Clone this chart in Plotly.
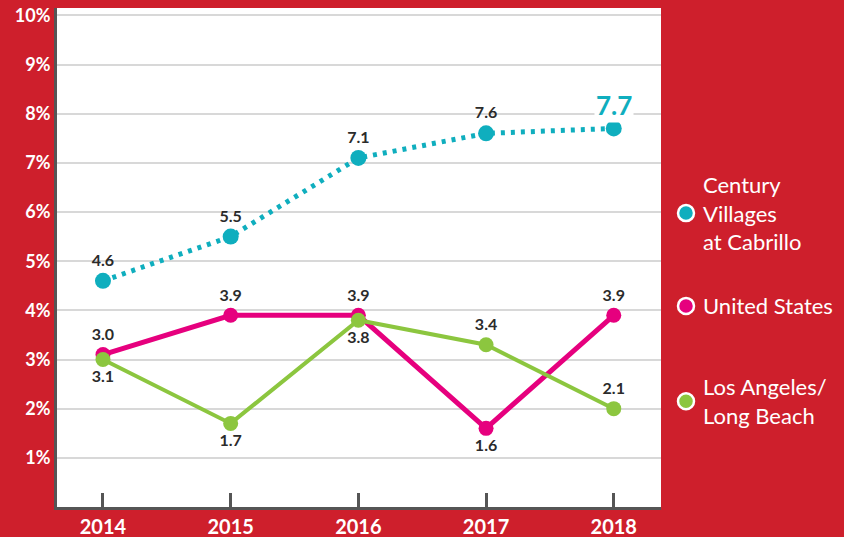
import plotly.graph_objects as go

years = [2014, 2015, 2016, 2017, 2018]
cabrillo = [4.6, 5.5, 7.1, 7.6, 7.7]
cabrillo_labels = ["4.6", "5.5", "7.1", "7.6", "7.7"]
us = [3.1, 3.9, 3.9, 1.6, 3.9]
us_labels = ["3.0", "3.9", "3.9", "1.6", "3.9"]
la = [3.0, 1.7, 3.8, 3.3, 2.0]
la_labels = ["3.1", "1.7", "3.8", "3.4", "2.1"]
yticks = [1, 2, 3, 4, 5, 6, 7, 8, 9, 10]
ytick_text = [f"{v}%" for v in yticks]

CYAN = "#0FAEBE"
PINK = "#E6007E"
GREEN = "#8CC63F"
LABEL = "#2B2B2B"
FONT = "Lato, 'Open Sans', sans-serif"

us_pos = ["top center", "top center", "top center", "bottom center", "top center"]
la_pos = ["bottom center", "bottom center", "bottom center", "top center", "top center"]

fig = go.Figure()

fig.add_trace(go.Scatter(
    x=years, y=us, mode="lines+markers+text",
    line=dict(color=PINK, width=5), marker=dict(color=PINK, size=15),
    text=us_labels, textposition=us_pos,
    textfont=dict(family=FONT, size=16, color=LABEL, weight="bold"),
    cliponaxis=False, showlegend=False))

fig.add_trace(go.Scatter(
    x=years, y=la, mode="lines+markers+text",
    line=dict(color=GREEN, width=4), marker=dict(color=GREEN, size=15),
    text=la_labels, textposition=la_pos,
    textfont=dict(family=FONT, size=16, color=LABEL, weight="bold"),
    cliponaxis=False, showlegend=False))

fig.add_trace(go.Scatter(
    x=years, y=cabrillo, mode="lines+markers+text",
    line=dict(color=CYAN, width=5, dash="4px,6px"), marker=dict(color=CYAN, size=16),
    text=cabrillo_labels[:-1] + [""], textposition="top center",
    textfont=dict(family=FONT, size=16, color=LABEL, weight="bold"),
    cliponaxis=False, showlegend=False))

fig.add_annotation(
    x=years[-1], y=cabrillo[-1], text=cabrillo_labels[-1], showarrow=False,
    yshift=23, bgcolor="white",
    font=dict(family=FONT, size=26, color=CYAN, weight="bold"))

# custom legend
legend_items = [
    ("Century<br>Villages<br>at Cabrillo", CYAN, 0.589),
    ("United States", PINK, 0.403),
    ("Los Angeles/<br>Long Beach", GREEN, 0.212),
]
for txt, col, yp in legend_items:
    fig.add_shape(type="circle", xref="paper", yref="paper",
                  xsizemode="pixel", ysizemode="pixel",
                  xanchor=1.0414, yanchor=yp,
                  x0=-8, x1=8, y0=-8, y1=8,
                  fillcolor=col, line=dict(color="white", width=2.5))
    fig.add_annotation(xref="paper", yref="paper", x=1.066, y=yp,
                       xanchor="left", yanchor="middle", align="left",
                       text=txt, showarrow=False,
                       font=dict(family=FONT, size=22, color="white"))

fig.update_layout(
    width=844, height=537,
    margin=dict(l=57, r=183, t=8, b=30),
    paper_bgcolor="#CE1F2C", plot_bgcolor="white",
)
fig.update_xaxes(
    range=[2013.64, 2018.37], tickvals=years, ticktext=[str(y) for y in years],
    showgrid=False, zeroline=False, automargin=False,
    showline=True, linecolor="#555", linewidth=3,
    ticks="inside", ticklen=14, tickwidth=3, tickcolor="#555",
    ticklabelstandoff=0,
    tickfont=dict(family=FONT, size=20, color="white", weight="bold"))
fig.update_yaxes(
    range=[0, 10.15], tickvals=yticks, ticktext=ytick_text,
    showgrid=True, gridcolor="#D8D8D8", gridwidth=2, zeroline=False,
    automargin=False,
    showline=True, linecolor="#555", linewidth=3, ticks="",
    tickfont=dict(family=FONT, size=18, color="white", weight="bold"))

fig.write_html("out.html")
